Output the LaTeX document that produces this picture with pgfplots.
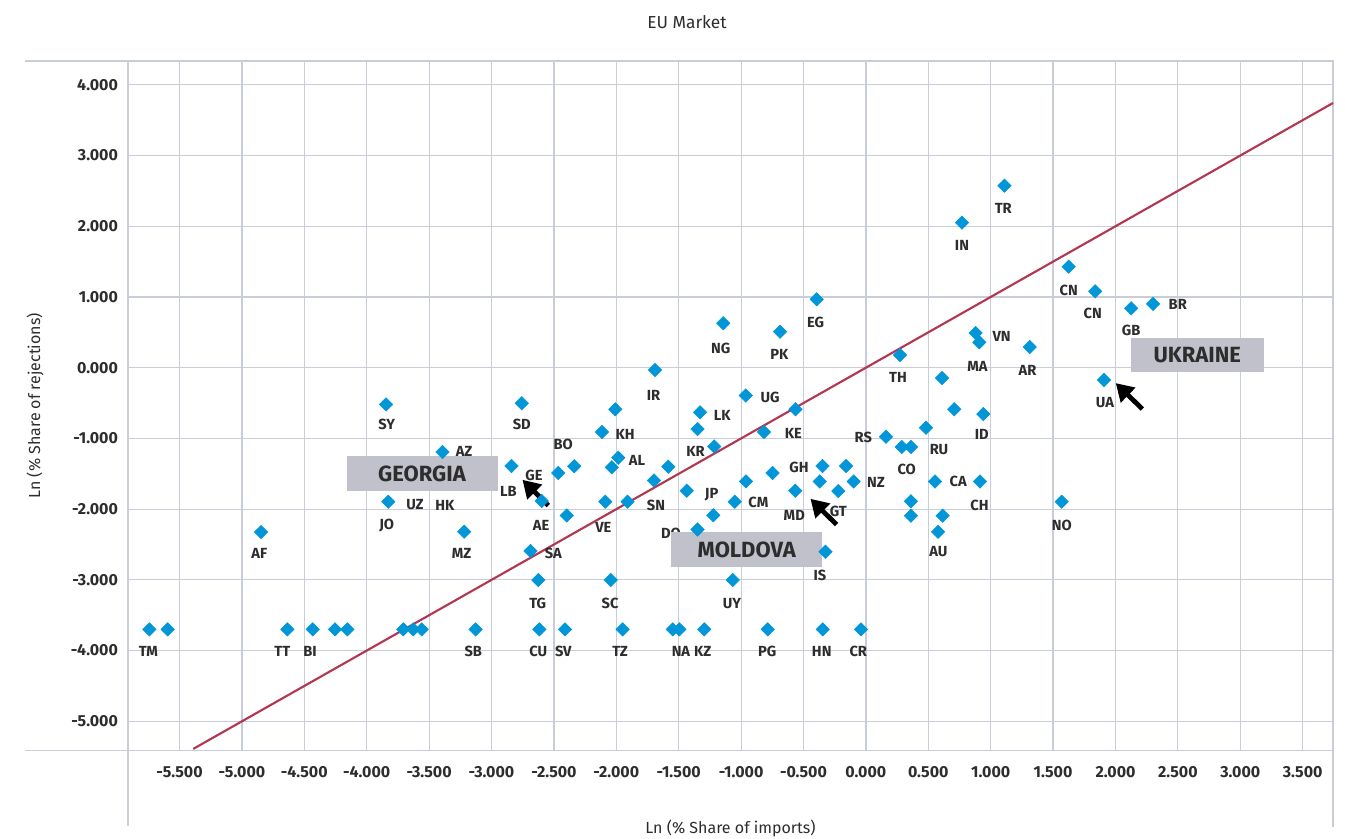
\documentclass[border=0pt]{standalone}
\usepackage{pgfplots}
\pgfplotsset{compat=1.18}
\usepackage{fontspec}
\setmainfont{Fira Sans}
\usetikzlibrary{arrows.meta}

\definecolor{gridc}{RGB}{200,205,216}
\definecolor{ptblue}{RGB}{0,150,215}
\definecolor{trend}{RGB}{178,56,82}
\definecolor{labc}{RGB}{45,45,45}
\definecolor{boxc}{RGB}{192,193,202}

% Ln(% share of imports) vs Ln(% share of rejections), one row per partner
\pgfplotstableread{
x y
-5.742 -3.700
-5.595 -3.700
-4.847 -2.324
-4.636 -3.700
-4.433 -3.700
-4.254 -3.700
-4.155 -3.700
-3.707 -3.700
-3.627 -3.700
-3.559 -3.700
-3.127 -3.700
-3.845 -0.520
-3.393 -1.192
-3.827 -1.895
-3.219 -2.319
-2.758 -0.503
-2.840 -1.390
-2.598 -1.885
-2.465 -1.489
-2.337 -1.394
-2.397 -2.090
-2.688 -2.592
-2.625 -3.002
-2.617 -3.700
-2.411 -3.700
-2.008 -0.588
-2.115 -0.909
-1.984 -1.273
-2.036 -1.409
-2.088 -1.895
-1.910 -1.895
-2.045 -3.002
-1.949 -3.700
-1.690 -0.033
-1.698 -1.595
-1.583 -1.400
-1.436 -1.740
-1.329 -0.631
-1.349 -0.867
-1.215 -1.114
-1.223 -2.087
-1.349 -2.288
-1.548 -3.700
-1.495 -3.700
-1.295 -3.700
-1.143 0.628
-0.963 -0.393
-1.051 -1.895
-0.961 -1.607
-1.067 -3.002
-0.817 -0.909
-0.748 -1.489
-0.688 0.509
-0.787 -3.700
-0.564 -0.588
-0.566 -1.740
-0.394 0.967
-0.348 -1.390
-0.159 -1.390
-0.370 -1.609
-0.098 -1.609
-0.221 -1.744
-0.324 -2.602
-0.346 -3.700
-0.039 -3.700
0.161 -0.976
0.273 0.180
0.287 -1.121
0.361 -1.121
0.361 -1.889
0.361 -2.093
0.482 -0.849
0.554 -1.609
0.578 -2.321
0.615 -2.093
0.610 -0.146
0.708 -0.588
0.770 2.051
0.879 0.491
0.909 0.359
0.941 -0.655
0.914 -1.609
1.110 2.574
1.313 0.293
1.569 -1.895
1.625 1.428
1.837 1.080
1.908 -0.174
2.126 0.840
2.301 0.901
}\partners

% 45-degree reference line
\pgfplotstableread{
x y
-5.39 -5.39
3.743 3.743
}\diagline

\begin{document}
\begin{tikzpicture}[
  lab/.style={font=\bfseries\fontsize{11}{13}\selectfont, text=labc, inner sep=0pt, anchor=center},
  boxlab/.style={font=\bfseries\fontsize{16.5}{18}\selectfont, text=labc, inner sep=0pt, anchor=center},
  arr/.style={line width=3.6pt, -{Triangle[length=13pt,width=15pt]}, black}
]
\begin{axis}[
  name=ax,
  scale only axis,
  width=903.75pt, height=517.3pt,
  xmin=-5.913, xmax=3.743, ymin=-5.416, ymax=4.337,
  xtick={-5.5,-5,-4.5,-4,-3.5,-3,-2.5,-2,-1.5,-1,-0.5,0,0.5,1,1.5,2,2.5,3,3.5},
  ytick={-5,-4,-3,-2,-1,0,1,2,3,4},
  /pgf/number format/fixed,
  /pgf/number format/fixed zerofill,
  /pgf/number format/precision=3,
  /pgf/number format/assume math mode=true,
  ticklabel style={font=\bfseries\fontsize{12}{14}\selectfont, text=labc},
  xticklabel style={yshift=-8pt},
  yticklabel style={xshift=-4pt},
  major tick length=0pt,
  grid=major,
  grid style={gridc, line width=0.9pt},
  axis line style={gridc, line width=0.9pt},
  clip=false,
  axis on top=false,
]

% frame extensions
\draw[gridc, line width=0.9pt] (rel axis cs:-0.0855,1) -- (rel axis cs:0,1);
\draw[gridc, line width=0.9pt] (rel axis cs:-0.0855,0) -- (rel axis cs:0,0);
\draw[gridc, line width=0.9pt] (rel axis cs:0,0) -- (rel axis cs:0,-0.1092);
\draw[gridc, line width=0.9pt] (rel axis cs:1,0) -- (rel axis cs:1,-0.1106);

\addplot[only marks, mark=square*, mark size=3.55pt, color=ptblue,
  every mark/.append style={rotate=45, draw=none, fill=ptblue}] table {\partners};

\addplot[no marks, trend, line width=1.6pt] table {\diagline};

% country codes
\node[lab] at (axis cs:-5.750,-4.016) {TM};
\node[lab] at (axis cs:-4.676,-4.016) {TT};
\node[lab] at (axis cs:-4.454,-4.016) {BI};
\node[lab] at (axis cs:-3.146,-4.016) {SB};
\node[lab] at (axis cs:-2.625,-4.016) {CU};
\node[lab] at (axis cs:-2.425,-4.016) {SV};
\node[lab] at (axis cs:-1.970,-4.016) {TZ};
\node[lab] at (axis cs:-1.482,-4.016) {NA};
\node[lab] at (axis cs:-1.308,-4.016) {KZ};
\node[lab] at (axis cs:-0.790,-4.016) {PG};
\node[lab] at (axis cs:-0.354,-4.016) {HN};
\node[lab] at (axis cs:-0.061,-4.016) {CR};
\node[lab] at (axis cs:-4.861,-2.625) {AF};
\node[lab] at (axis cs:-3.840,-0.800) {SY};
\node[lab] at (axis cs:-2.758,-0.800) {SD};
\node[lab] at (axis cs:-3.220,-1.188) {AZ};
\node[lab] at (axis cs:-3.613,-1.942) {UZ};
\node[lab] at (axis cs:-3.373,-1.942) {HK};
\node[lab] at (axis cs:-3.840,-2.234) {JO};
\node[lab] at (axis cs:-3.239,-2.625) {MZ};
\node[lab] at (axis cs:-2.865,-1.744) {LB};
\node[lab] at (axis cs:-2.659,-1.517) {GE};
\node[lab] at (axis cs:-2.425,-1.079) {BO};
\node[lab] at (axis cs:-2.603,-2.234) {AE};
\node[lab] at (axis cs:-2.505,-2.625) {SA};
\node[lab] at (axis cs:-2.630,-3.332) {TG};
\node[lab] at (axis cs:-2.050,-3.332) {SC};
\node[lab] at (axis cs:-1.073,-3.332) {UY};
\node[lab] at (axis cs:-2.104,-2.257) {VE};
\node[lab] at (axis cs:-1.930,-0.945) {KH};
\node[lab] at (axis cs:-1.834,-1.305) {AL};
\node[lab] at (axis cs:-1.702,-0.386) {IR};
\node[lab] at (axis cs:-1.682,-1.952) {SN};
\node[lab] at (axis cs:-1.151,-0.669) {LK};
\node[lab] at (axis cs:-1.365,-1.178) {KR};
\node[lab] at (axis cs:-1.236,-1.793) {JP};
\node[lab] at (axis cs:-1.562,-2.338) {DO};
\node[lab] at (axis cs:-1.163,0.274) {NG};
\node[lab] at (axis cs:-0.694,0.194) {PK};
\node[lab] at (axis cs:-0.403,0.646) {EG};
\node[lab] at (axis cs:-0.768,-0.419) {UG};
\node[lab] at (axis cs:-0.582,-0.928) {KE};
\node[lab] at (axis cs:-0.862,-1.909) {CM};
\node[lab] at (axis cs:-0.536,-1.409) {GH};
\node[lab] at (axis cs:-0.574,-2.083) {MD};
\node[lab] at (axis cs:-0.221,-2.036) {GT};
\node[lab] at (axis cs:0.081,-1.624) {NZ};
\node[lab] at (axis cs:-0.368,-2.932) {IS};
\node[lab] at (axis cs:-0.021,-0.987) {RS};
\node[lab] at (axis cs:0.327,-1.437) {CO};
\node[lab] at (axis cs:0.586,-1.154) {RU};
\node[lab] at (axis cs:0.257,-0.139) {TH};
\node[lab] at (axis cs:0.740,-1.612) {CA};
\node[lab] at (axis cs:0.910,-1.952) {CH};
\node[lab] at (axis cs:0.580,-2.602) {AU};
\node[lab] at (axis cs:0.928,-0.938) {ID};
\node[lab] at (axis cs:0.894,0.024) {MA};
\node[lab] at (axis cs:1.087,0.438) {VN};
\node[lab] at (axis cs:1.295,-0.033) {AR};
\node[lab] at (axis cs:1.101,2.254) {TR};
\node[lab] at (axis cs:0.770,1.735) {IN};
\node[lab] at (axis cs:1.625,1.089) {CN};
\node[lab] at (axis cs:1.817,0.769) {CN};
\node[lab] at (axis cs:2.126,0.533) {GB};
\node[lab] at (axis cs:2.499,0.901) {BR};
\node[lab] at (axis cs:1.916,-0.495) {UA};
\node[lab] at (axis cs:1.569,-2.234) {NO};

% highlighted countries
\fill[boxc] (axis cs:-4.162,-1.249) rectangle (axis cs:-2.952,-1.740);
\node[boxlab] at (axis cs:-3.557,-1.497) {GEORGIA};
\fill[boxc] (axis cs:-1.562,-2.328) rectangle (axis cs:-0.349,-2.814);
\node[boxlab] at (axis cs:-0.955,-2.571) {MOLDOVA};
\fill[boxc] (axis cs:2.123,0.416) rectangle (axis cs:3.188,-0.065);
\node[boxlab] at (axis cs:2.655,0.176) {UKRAINE};

\draw[arr] (axis cs:-2.545,-1.950) -- (axis cs:-2.752,-1.585);
\draw[arr] (axis cs:-0.235,-2.219) -- (axis cs:-0.444,-1.854);
\draw[arr] (axis cs:2.215,-0.584) -- (axis cs:2.002,-0.218);

% titles
\node[font=\fontsize{13}{15}\selectfont, text=labc] at (rel axis cs:0.4639,1.0566) {EU Market};
\node[font=\fontsize{12}{14}\selectfont, text=labc] at (rel axis cs:0.5,-0.1121) {Ln (\% Share of imports)};
\node[font=\fontsize{12}{14}\selectfont, text=labc, rotate=90] at (rel axis cs:-0.0772,0.5) {Ln (\% Share of rejections)};
\end{axis}
\pgfresetboundingbox
\path[use as bounding box] ([xshift=-96pt,yshift=-66.2pt]ax.south west) rectangle ([xshift=9pt,yshift=45.75pt]ax.north east);
\end{tikzpicture}
\end{document}
